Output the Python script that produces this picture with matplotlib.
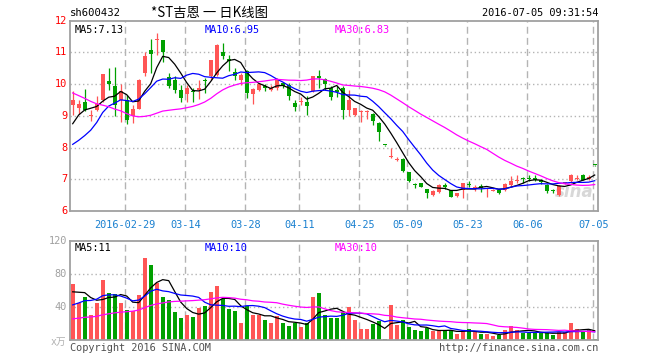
import numpy as np
import matplotlib
matplotlib.use("Agg")
import matplotlib.pyplot as plt

# ---------------- data ----------------
opens = [9.35, 9.26, 9.45, 9.00, 9.19, 9.50, 10.10, 9.93, 9.50, 9.50,
         8.98, 9.21, 10.35, 11.08, 11.38, 11.40, 10.22, 10.14, 9.82, 9.68,
         9.78, 9.80, 10.12, 10.24, 10.29, 11.01, 10.80, 10.37, 10.12, 10.40,
         9.70, 9.80, 9.95, 9.80, 9.87, 10.03, 9.98, 9.40, 9.42, 9.42,
         9.77, 10.26, 10.17, 9.87, 9.82, 9.87, 9.19, 9.03, 9.12, 9.13,
         9.06, 8.77, 8.08, 7.70, 7.62, 7.63, 7.24, 6.83, 6.87, 6.68,
         6.50, 6.61, 6.81, 6.66, 6.47, 6.66, 6.86, 6.74, 6.80, 6.68,
         6.64, 6.66, 6.66, 6.82, 6.95, 7.03, 7.04, 7.03, 6.98, 6.82,
         6.66, 6.50, 6.88, 6.96, 7.02, 7.14, 7.00, 7.45]
highs = [9.79, 9.50, 9.84, 9.17, 9.63, 10.33, 10.50, 10.53, 10.01, 9.66,
         9.35, 10.16, 11.00, 11.43, 11.61, 11.40, 10.36, 10.24, 9.97, 9.97,
         9.87, 10.12, 10.19, 10.77, 11.27, 11.29, 10.93, 10.50, 10.35, 10.43,
         9.87, 10.03, 10.00, 9.96, 10.19, 10.08, 10.03, 9.50, 9.59, 9.61,
         10.26, 10.43, 10.19, 9.93, 9.93, 9.93, 9.82, 9.24, 9.17, 9.19,
         9.08, 8.79, 8.08, 7.98, 7.70, 7.66, 7.24, 6.89, 6.89, 6.68,
         6.66, 6.84, 6.89, 6.66, 6.58, 6.87, 6.93, 6.82, 6.85, 6.71,
         6.70, 6.69, 6.87, 7.10, 7.14, 7.08, 7.12, 7.12, 7.00, 6.84,
         6.68, 6.82, 6.92, 7.17, 7.12, 7.17, 7.14, 7.45]
lows = [9.03, 9.06, 9.14, 8.85, 9.14, 9.45, 9.80, 9.00, 8.79, 8.74,
        8.77, 9.20, 10.24, 10.35, 10.93, 10.70, 9.87, 9.71, 9.42, 9.45,
        9.45, 9.53, 9.72, 10.14, 10.24, 10.79, 10.40, 10.13, 9.98, 9.55,
        9.38, 9.77, 9.77, 9.77, 9.82, 9.87, 9.50, 9.14, 9.35, 9.03,
        9.74, 9.87, 9.82, 9.50, 9.59, 8.90, 9.00, 8.98, 8.82, 8.90,
        8.72, 8.22, 8.06, 7.66, 7.56, 7.24, 6.90, 6.72, 6.75, 6.40,
        6.47, 6.58, 6.68, 6.43, 6.43, 6.40, 6.75, 6.64, 6.61, 6.45,
        6.62, 6.55, 6.64, 6.79, 6.87, 6.87, 6.96, 6.96, 6.86, 6.56,
        6.56, 6.48, 6.85, 6.87, 6.97, 6.97, 6.98, 7.43]
closes = [9.50, 9.38, 9.19, 9.02, 9.38, 10.33, 10.01, 9.35, 9.77, 8.87,
          9.21, 10.14, 10.87, 10.96, 11.40, 11.00, 9.95, 9.82, 9.57, 9.89,
          9.75, 9.89, 10.10, 10.77, 11.24, 10.87, 10.74, 10.26, 10.29, 9.72,
          9.85, 10.00, 9.87, 9.87, 10.12, 9.93, 9.61, 9.29, 9.48, 9.32,
          10.26, 10.19, 10.00, 9.59, 9.74, 9.19, 9.50, 9.24, 9.14, 9.15,
          8.85, 8.50, 8.07, 7.72, 7.64, 7.26, 6.93, 6.81, 6.77, 6.56,
          6.64, 6.82, 6.77, 6.45, 6.56, 6.87, 6.82, 6.76, 6.72, 6.70,
          6.66, 6.58, 6.85, 6.96, 6.97, 7.00, 7.00, 6.99, 6.90, 6.64,
          6.64, 6.79, 6.90, 7.14, 7.04, 6.97, 7.08, 7.44]
volumes = [68, 45.5, 52.5, 30.5, 45.5, 72.5, 57.5, 55.5, 45.5, 36.5,
           35.5, 54.5, 99.5, 90.5, 69.5, 52.5, 48.5, 34, 26.5, 30.5,
           28.5, 38.5, 41.5, 58.5, 65.5, 49.5, 38, 35.5, 20.5, 42,
           30.5, 30.5, 24.5, 20.5, 29.5, 21, 17, 21, 15.5, 21,
           52.5, 57.5, 30.5, 26.5, 26.5, 34.5, 40, 24.5, 13.5, 13.5,
           19.5, 23.5, 2, 43, 18.5, 24.5, 16.5, 12, 11, 14.3,
           11, 11, 12.2, 12.2, 7.5, 11, 13.5, 9.5, 7.5, 7.5,
           5, 6.2, 12.5, 17, 12.5, 9, 9, 9, 9, 9,
           6.5, 9.5, 9.5, 21.5, 13.5, 10, 12, 1]
# trading days before the first visible candle (needed for the moving averages)
prior_closes = [11.90, 11.80, 11.85, 11.70, 11.60, 11.50, 11.55, 11.45, 11.50, 11.35,
                11.00, 10.45, 9.93, 9.43, 9.00, 9.20, 9.10, 8.95, 8.80, 8.54,
                8.11, 7.70, 7.32, 6.95, 7.17, 8.00, 8.40, 8.75, 9.10]
prior_volumes = [22, 19, 21, 20, 18, 22, 20, 21, 19,
                 17, 15, 12, 10, 14, 16, 13, 15, 18, 19, 19,
                 22, 25, 28, 30, 30, 48, 55, 60, 62]
tick_idx = [9, 19, 29, 38, 48, 56, 66, 76, 87]
tick_labels = ['2016-02-29', '03-14', '03-28', '04-11', '04-25',
               '05-09', '05-23', '06-06', '07-05']
price_ticks = [6, 7, 8, 9, 10, 11, 12]
vol_ticks = [40, 80, 120]

# ---------------- helpers ----------------
W, H = 660, 360
RED = '#ff5555'
GREEN = '#00a000'
GRID = '#b4b4b4'
FRAME = '#a0a0a0'
MONO = 'DejaVu Sans Mono'


def ma(series, prior, n):
    full = np.array(list(prior) + list(series), float)
    out = np.convolve(full, np.ones(n) / n, mode='valid')
    return out[-len(series):]


def rect(l, t, r, b):
    return [l / W, 1 - b / H, (r - l) / W, (b - t) / H]


def fx(x):
    return x / W


def fy(y):
    return 1 - y / H


fig = plt.figure(figsize=(6.6, 3.6), dpi=100)
fig.patch.set_facecolor('white')

ax = fig.add_axes(rect(70, 20.6, 598, 211))
axv = fig.add_axes(rect(70, 241, 598, 340.3))

n = len(closes)
x = np.arange(n)
o = np.array(opens); c = np.array(closes)
h = np.array(highs); l = np.array(lows)
v = np.array(volumes)
up = c >= o
cols = np.where(up, RED, GREEN)

XL = (-0.45, 87.55)

for a in (ax, axv):
    a.set_xlim(*XL)
    a.set_xticks([])
    a.set_yticks([])
    for s in a.spines.values():
        s.set_color(FRAME)
        s.set_linewidth(1.3)
    for t in tick_idx:
        a.axvline(t - 0.25, color=GRID, lw=1.0, ls=(0, (5, 3)), zorder=0)

# ---------------- price panel ----------------
ax.set_ylim(6, 12)
for p in price_ticks[1:-1]:
    ax.axhline(p, color=GRID, lw=1.0, ls=(0, (1, 2)), zorder=0)

ax.vlines(x, l, h, colors=cols, lw=0.9, zorder=2)
body_bot = np.minimum(o, c)
body_h = np.maximum(np.abs(c - o), 0.03)
ax.bar(x, body_h, bottom=body_bot, width=0.72, color=cols, lw=0, zorder=3)

ma5 = ma(closes, prior_closes, 5)
ma10 = ma(closes, prior_closes, 10)
ma30 = ma(closes, prior_closes, 30)
ax.plot(x, ma5, color='black', lw=0.9, zorder=4)
ax.plot(x, ma10, color='#0000ff', lw=0.9, zorder=4)
ax.plot(x, ma30, color='#ff00ff', lw=0.9, zorder=4)

for p in price_ticks:
    fig.text(fx(67), fy(211 - (p - 6) * (190.4 / 6)), str(p), color='#ff0000',
             ha='right', va='center', family=MONO, fontsize=7.4)

ax.text(0.008, 0.975, f'MA5:{ma5[-1]:.2f}', transform=ax.transAxes, color='black',
        ha='left', va='top', family=MONO, fontsize=7.4)
ax.text(0.255, 0.975, f'MA10:{ma10[-1]:.2f}', transform=ax.transAxes, color='#0000ff',
        ha='left', va='top', family=MONO, fontsize=7.4)
ax.text(0.502, 0.975, f'MA30:{ma30[-1]:.2f}', transform=ax.transAxes, color='#ff00ff',
        ha='left', va='top', family=MONO, fontsize=7.4)

for t, lab in zip(tick_idx, tick_labels):
    ax.text(t - 0.25, -0.045, lab, transform=ax.get_xaxis_transform(), color='#1a80d0',
            ha='center', va='top', family=MONO, fontsize=7.4)

ax.text(0.955, 0.1, 'sina', transform=ax.transAxes, color='#d8d8d8', ha='center',
        va='center', fontsize=12, fontweight='bold', style='italic', zorder=1)

# ---------------- volume panel ----------------
axv.set_ylim(0, 120)
for q in vol_ticks[:-1]:
    axv.axhline(q, color=GRID, lw=1.0, ls=(0, (1, 2)), zorder=0)
axv.bar(x, v, width=0.68, color=cols, lw=0, zorder=2)
vma5 = ma(volumes, prior_volumes, 5)
vma10 = ma(volumes, prior_volumes, 10)
vma30 = ma(volumes, prior_volumes, 30)
axv.plot(x, vma5, color='black', lw=0.9, zorder=4)
axv.plot(x, vma10, color='#0000ff', lw=0.9, zorder=4)
axv.plot(x, vma30, color='#ff00ff', lw=0.9, zorder=4)

for q in vol_ticks:
    fig.text(fx(67), fy(340.3 - q * 99.3 / 120), str(q), color='#a0a0a0',
             ha='right', va='center', family=MONO, fontsize=7.4)
fig.text(fx(66), fy(342), 'x万', color='#b0b0b0', ha='right', va='center',
         family=[MONO, 'Noto Sans CJK SC'], fontsize=7.0)

axv.text(0.008, 0.975, f'MA5:{int(vma5[-1])}', transform=axv.transAxes, color='black',
         ha='left', va='top', family=MONO, fontsize=7.4)
axv.text(0.255, 0.975, f'MA10:{int(vma10[-1])}', transform=axv.transAxes, color='#0000ff',
         ha='left', va='top', family=MONO, fontsize=7.4)
axv.text(0.502, 0.975, f'MA30:{int(vma30[-1])}', transform=axv.transAxes, color='#ff00ff',
         ha='left', va='top', family=MONO, fontsize=7.4)

# ---------------- header / footer ----------------
fig.text(fx(70), fy(13), 'sh600432', color='black', ha='left', va='center',
         family=MONO, fontsize=7.6)
fig.text(fx(151), fy(13), '*ST吉恩 一 日K线图', color='black', ha='left', va='center',
         family=['Noto Sans CJK SC', 'DejaVu Sans'], fontsize=9.6)
fig.text(fx(598), fy(13), '2016-07-05 09:31:54', color='black', ha='right', va='center',
         family=MONO, fontsize=7.4)
fig.text(fx(70), fy(348), 'Copyright 2016 SINA.COM', color='#505050', ha='left',
         va='center', family=MONO, fontsize=7.4)
fig.text(fx(598), fy(348), 'http://finance.sina.com.cn', color='#505050', ha='right',
         va='center', family=MONO, fontsize=7.4)

fig.savefig('out.png', dpi=100, facecolor='white')
